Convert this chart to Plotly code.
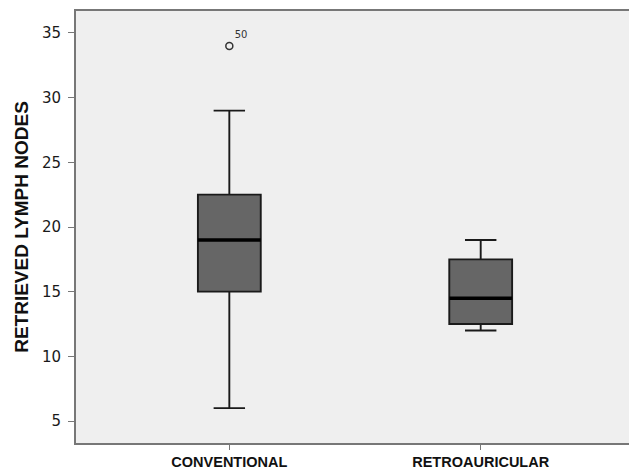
import plotly.graph_objects as go

categories = ["CONVENTIONAL", "RETROAURICULAR"]
lower_whisker = [6, 12]
q1 = [15, 12.5]
median = [19, 14.5]
q3 = [22.5, 17.5]
upper_whisker = [29, 19]
outlier_group = ["CONVENTIONAL"]
outlier_value = [34]
outlier_label = ["50"]

xpos = list(range(len(categories)))
box_width = 0.25

fig = go.Figure()
fig.add_trace(go.Box(
    x=xpos, q1=q1, median=median, q3=q3,
    lowerfence=lower_whisker, upperfence=upper_whisker,
    fillcolor="#666666", line=dict(color="#1a1a1a", width=1.9),
    whiskerwidth=0.5, width=box_width, boxpoints=False, showlegend=False,
    hoverinfo="skip",
))
# thicker median lines
for i, m in zip(xpos, median):
    fig.add_trace(go.Scatter(
        x=[i - box_width / 2, i + box_width / 2], y=[m, m], mode="lines",
        line=dict(color="#000000", width=3.5), showlegend=False, hoverinfo="skip",
    ))
ox = [categories.index(c) for c in outlier_group]
fig.add_trace(go.Scatter(
    x=ox, y=outlier_value, mode="markers+text", text=outlier_label,
    textposition="top right",
    textfont=dict(family="DejaVu Sans", size=10, color="#333333"),
    marker=dict(symbol="circle-open", size=7, color="#333333", line=dict(width=1.5)),
    showlegend=False, hoverinfo="skip",
))

fig.update_layout(
    width=629, height=471,
    margin=dict(l=76, r=0, t=11, b=28),
    paper_bgcolor="white", plot_bgcolor="#efefef",
    font=dict(family="DejaVu Sans", color="#222222"),
)
fig.update_xaxes(
    range=[-0.61, 1.59], tickvals=xpos, ticktext=["<b>%s</b>" % c for c in categories],
    tickfont=dict(family="Liberation Sans", size=14.5, color="#111111"),
    ticks="outside", ticklen=5, tickcolor="#777777",
    showgrid=False, zeroline=False, showline=True, linecolor="#777777", linewidth=2,
    mirror=True,
)
fig.update_yaxes(
    range=[3.3, 36.7], tickvals=[5, 10, 15, 20, 25, 30, 35],
    tickfont=dict(family="DejaVu Sans", size=15, color="#1a1a1a"),
    ticks="outside", ticklen=6, tickcolor="#777777", ticklabelstandoff=4,
    showgrid=False, zeroline=False, showline=True, linecolor="#777777", linewidth=2,
    mirror=False,
    title=dict(text="<b>RETRIEVED LYMPH NODES</b>", font=dict(family="Liberation Sans", size=19, color="#111111"), standoff=8),
)
fig.write_html("out.html", config={"displayModeBar": False},
               post_script="document.body.style.margin='0';document.body.style.overflow='hidden';")
